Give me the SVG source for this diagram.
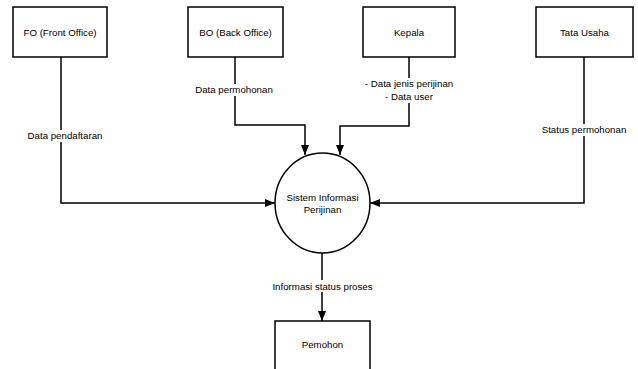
<svg xmlns="http://www.w3.org/2000/svg" width="638" height="369" viewBox="0 0 638 369">
<defs>
<marker id="arr" viewBox="0 0 10 8" refX="10" refY="4" markerWidth="10" markerHeight="8" markerUnits="userSpaceOnUse" orient="auto">
<path d="M0,0 L10,4 L0,8 Z" fill="#000"/>
</marker>
</defs>
<style>
.box{fill:#fff;stroke:#000;stroke-width:1.5}
.t{font-family:"Liberation Sans",Arial,sans-serif;font-size:9.7px;fill:#000;text-anchor:middle}
.l{font-family:"Liberation Sans",Arial,sans-serif;font-size:9.7px;fill:#000;text-anchor:middle}
.c{fill:none;stroke:#000;stroke-width:1.5}
.bg{fill:#fff}
</style>
<rect width="638" height="369" fill="#fff"/>
<g id="connectors">
<path class="c" d="M61,57 V203 H275" marker-end="url(#arr)"/>
<path class="c" d="M235,57 V125 H305 V155" marker-end="url(#arr)"/>
<path class="c" d="M409,57 V126 H340 V155" marker-end="url(#arr)"/>
<path class="c" d="M584,57 V203 H370" marker-end="url(#arr)"/>
<path class="c" d="M322,253 V321" marker-end="url(#arr)"/>
<rect class="bg" x="24" y="130" width="82" height="12"/>
<text class="l" x="65" y="139">Data pendaftaran</text>
<rect class="bg" x="193" y="84" width="84" height="12"/>
<text class="l" x="234" y="93">Data permohonan</text>
<rect class="bg" x="360" y="78" width="98" height="25"/>
<text class="l" x="409" y="87">- Data jenis perijinan</text>
<text class="l" x="409" y="100">- Data user</text>
<rect class="bg" x="538" y="124" width="92" height="12"/>
<text class="l" x="584" y="133">Status permohonan</text>
<rect class="bg" x="270" y="280" width="106" height="12"/>
<text class="l" x="322.5" y="289.5">Informasi status proses</text>
</g>
<g id="fo">
<rect class="box" x="13" y="7" width="94" height="50"/>
<text class="t" x="60" y="36">FO (Front Office)</text>
</g>
<g id="bo">
<rect class="box" x="188" y="7" width="95" height="50"/>
<text class="t" x="235.5" y="36">BO (Back Office)</text>
</g>
<g id="kepala">
<rect class="box" x="363" y="7" width="92" height="50"/>
<text class="t" x="409" y="36">Kepala</text>
</g>
<g id="tatausaha">
<rect class="box" x="536" y="7" width="97" height="50"/>
<text class="t" x="584.5" y="36">Tata Usaha</text>
</g>
<g id="sistem">
<ellipse class="box" cx="322.5" cy="203" rx="47.5" ry="50"/>
<text class="t" x="322.5" y="201">Sistem Informasi</text>
<text class="t" x="322.5" y="213">Perijinan</text>
</g>
<g id="pemohon">
<rect class="box" x="275" y="321" width="95" height="52"/>
<text class="t" x="322.5" y="348">Pemohon</text>
</g>
</svg>
